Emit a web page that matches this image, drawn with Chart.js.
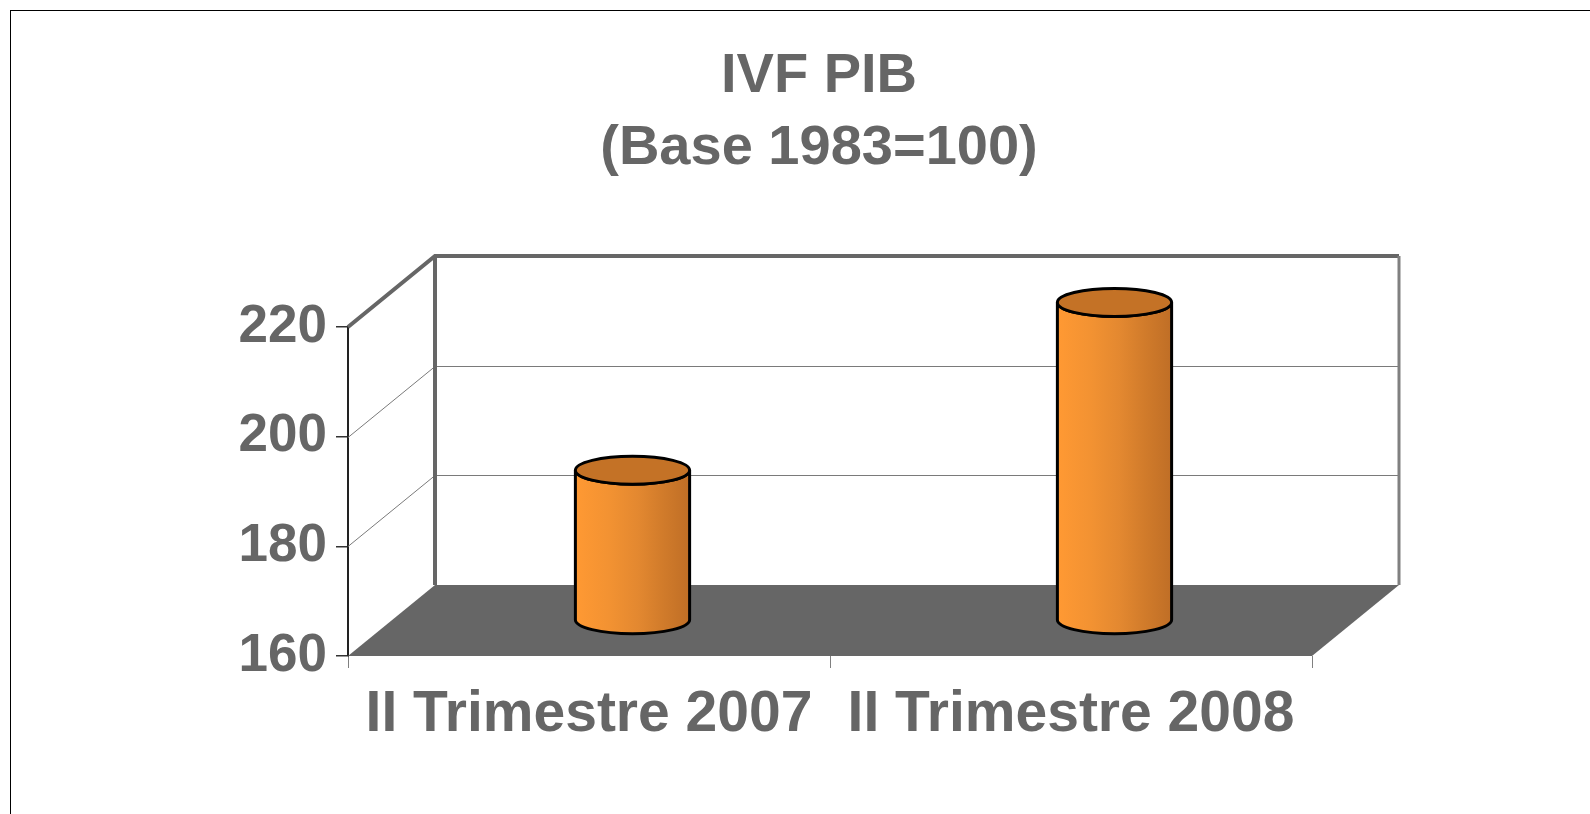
<!DOCTYPE html>
<html>
<head>
<meta charset="utf-8">
<script src="https://cdn.jsdelivr.net/npm/chart.js@4"></script>
<style>
  html, body { margin: 0; padding: 0; background: #fff; }
  canvas { display: block; }
</style>
</head>
<body>
<canvas id="myChart" width="1590" height="814"></canvas>
<script>
const categories = ['II Trimestre 2007', 'II Trimestre 2008']
const ivfValues = [187.4, 218.0]
const yTicks = [160, 180, 200, 220]
const titleLines = ['IVF PIB', '(Base 1983=100)']

// depth of the fake 3d box
const DX = 87
const DY = -71
const FONT = 'Liberation Sans, Arial, sans-serif'
const TEXT = '#666666'

const walls = {
    id: 'walls',
    beforeDatasetsDraw(chart) {
        const { ctx, chartArea: a, scales: { y } } = chart
        ctx.save()
        // floor
        ctx.fillStyle = '#666666'
        ctx.beginPath()
        ctx.moveTo(a.left, a.bottom)
        ctx.lineTo(a.right, a.bottom)
        ctx.lineTo(a.right + DX, a.bottom + DY)
        ctx.lineTo(a.left + DX, a.bottom + DY)
        ctx.closePath()
        ctx.fill()
        // grid lines on back and side wall
        ctx.lineWidth = 1
        ctx.strokeStyle = '#7a7a7a'
        yTicks.slice(1, -1).forEach(v => {
            const py = Math.round(y.getPixelForValue(v)) + 0.5
            ctx.beginPath()
            ctx.moveTo(a.left + DX, py + DY)
            ctx.lineTo(a.right + DX, py + DY)
            ctx.stroke()
            ctx.beginPath()
            ctx.moveTo(a.left, py)
            ctx.lineTo(a.left + DX, py + DY)
            ctx.stroke()
        })
        // wall edges
        ctx.strokeStyle = '#666666'
        ctx.lineWidth = 4
        ctx.lineJoin = 'miter'
        ctx.beginPath()
        ctx.moveTo(a.left, a.top)
        ctx.lineTo(a.left + DX, a.top + DY)
        ctx.lineTo(a.right + DX, a.top + DY)
        ctx.stroke()
        ctx.beginPath()
        ctx.moveTo(a.left + DX, a.top + DY)
        ctx.lineTo(a.left + DX, a.bottom + DY)
        ctx.stroke()
        ctx.strokeStyle = '#808080'
        ctx.lineWidth = 3
        ctx.beginPath()
        ctx.moveTo(a.right + DX, a.top + DY)
        ctx.lineTo(a.right + DX, a.bottom + DY)
        ctx.stroke()
        ctx.restore()
    },
    afterDatasetsDraw(chart) {
        const { ctx } = chart
        const meta = chart.getDatasetMeta(0)
        ctx.save()
        meta.data.forEach(bar => {
            const { x, y, base, width } = bar.getProps(['x', 'y', 'base', 'width'], true)
            const cx = x + DX * 0.5
            const top = y + DY * 0.5
            const bot = base + DY * 0.5
            const r = width / 2
            const ry = 14
            const g = ctx.createLinearGradient(cx - r, 0, cx + r, 0)
            g.addColorStop(0, '#ff9933')
            g.addColorStop(0.3, '#f29232')
            g.addColorStop(0.55, '#e38830')
            g.addColorStop(0.75, '#d27c2b')
            g.addColorStop(1, '#bf6e26')
            ctx.beginPath()
            ctx.moveTo(cx - r, top)
            ctx.lineTo(cx - r, bot)
            ctx.ellipse(cx, bot, r, ry, 0, Math.PI, 0, true)
            ctx.lineTo(cx + r, top)
            ctx.ellipse(cx, top, r, ry, 0, 0, Math.PI, false)
            ctx.closePath()
            ctx.fillStyle = g
            ctx.fill()
            ctx.lineWidth = 3
            ctx.strokeStyle = '#000'
            ctx.stroke()
            ctx.beginPath()
            ctx.ellipse(cx, top, r, ry, 0, 0, Math.PI * 2)
            ctx.fillStyle = '#c47226'
            ctx.fill()
            ctx.stroke()
        })
        ctx.restore()
    },
    afterDraw(chart) {
        const { ctx } = chart
        ctx.save()
        ctx.strokeStyle = '#000'
        ctx.lineWidth = 1
        ctx.strokeRect(10.5, 10.5, 1700, 900)
        ctx.restore()
    }
}

function render_chart() {
    const data = {
        labels: categories,
        datasets: [
            {
                label: 'IVF PIB',
                data: ivfValues,
                base: yTicks[0],
                backgroundColor: 'rgba(0,0,0,0)',
                borderWidth: 0,
                categoryPercentage: 1,
                barPercentage: 0.237,
            },
        ],
    }
    const config = {
        type: 'bar',
        data: data,
        plugins: [walls],
        options: {
            responsive: false,
            animation: false,
            layout: { padding: { left: 48, right: 0, top: 0, bottom: 0 } },
            plugins: {
                legend: { display: false },
                tooltip: { enabled: false },
                title: {
                    display: true,
                    text: titleLines,
                    color: TEXT,
                    font: { family: FONT, size: 56, weight: 'bold', lineHeight: 72 / 56 },
                    padding: { top: 41, bottom: 142 },
                },
            },
            scales: {
                x: {
                    ticks: {
                        color: TEXT,
                        font: { family: FONT, size: 57, weight: 'bold', lineHeight: 1.2 },
                        padding: 13,
                        maxRotation: 0,
                        autoSkip: false,
                    },
                    grid: { drawOnChartArea: false, tickLength: 12, color: '#808080', lineWidth: 1 },
                    border: { display: false },
                    afterFit(scale) { scale.height = 158 },
                },
                y: {
                    min: 160,
                    max: 220,
                    ticks: {
                        stepSize: 20,
                        color: TEXT,
                        font: { family: FONT, size: 53, weight: 'bold' },
                        padding: 9,
                    },
                    grid: { drawOnChartArea: false, tickLength: 12, color: '#333', lineWidth: 1.5 },
                    border: { display: true, color: '#222', width: 2 },
                    afterFit(scale) { scale.width = 300 },
                },
                yRight: {
                    position: 'right',
                    display: true,
                    ticks: { display: false },
                    grid: { display: false },
                    border: { display: false },
                    afterFit(scale) { scale.width = 278 },
                },
            },
        },
    }
    const myChart = new Chart(document.getElementById('myChart'), config)
}
document.addEventListener('DOMContentLoaded', render_chart)
</script>
</body>
</html>
